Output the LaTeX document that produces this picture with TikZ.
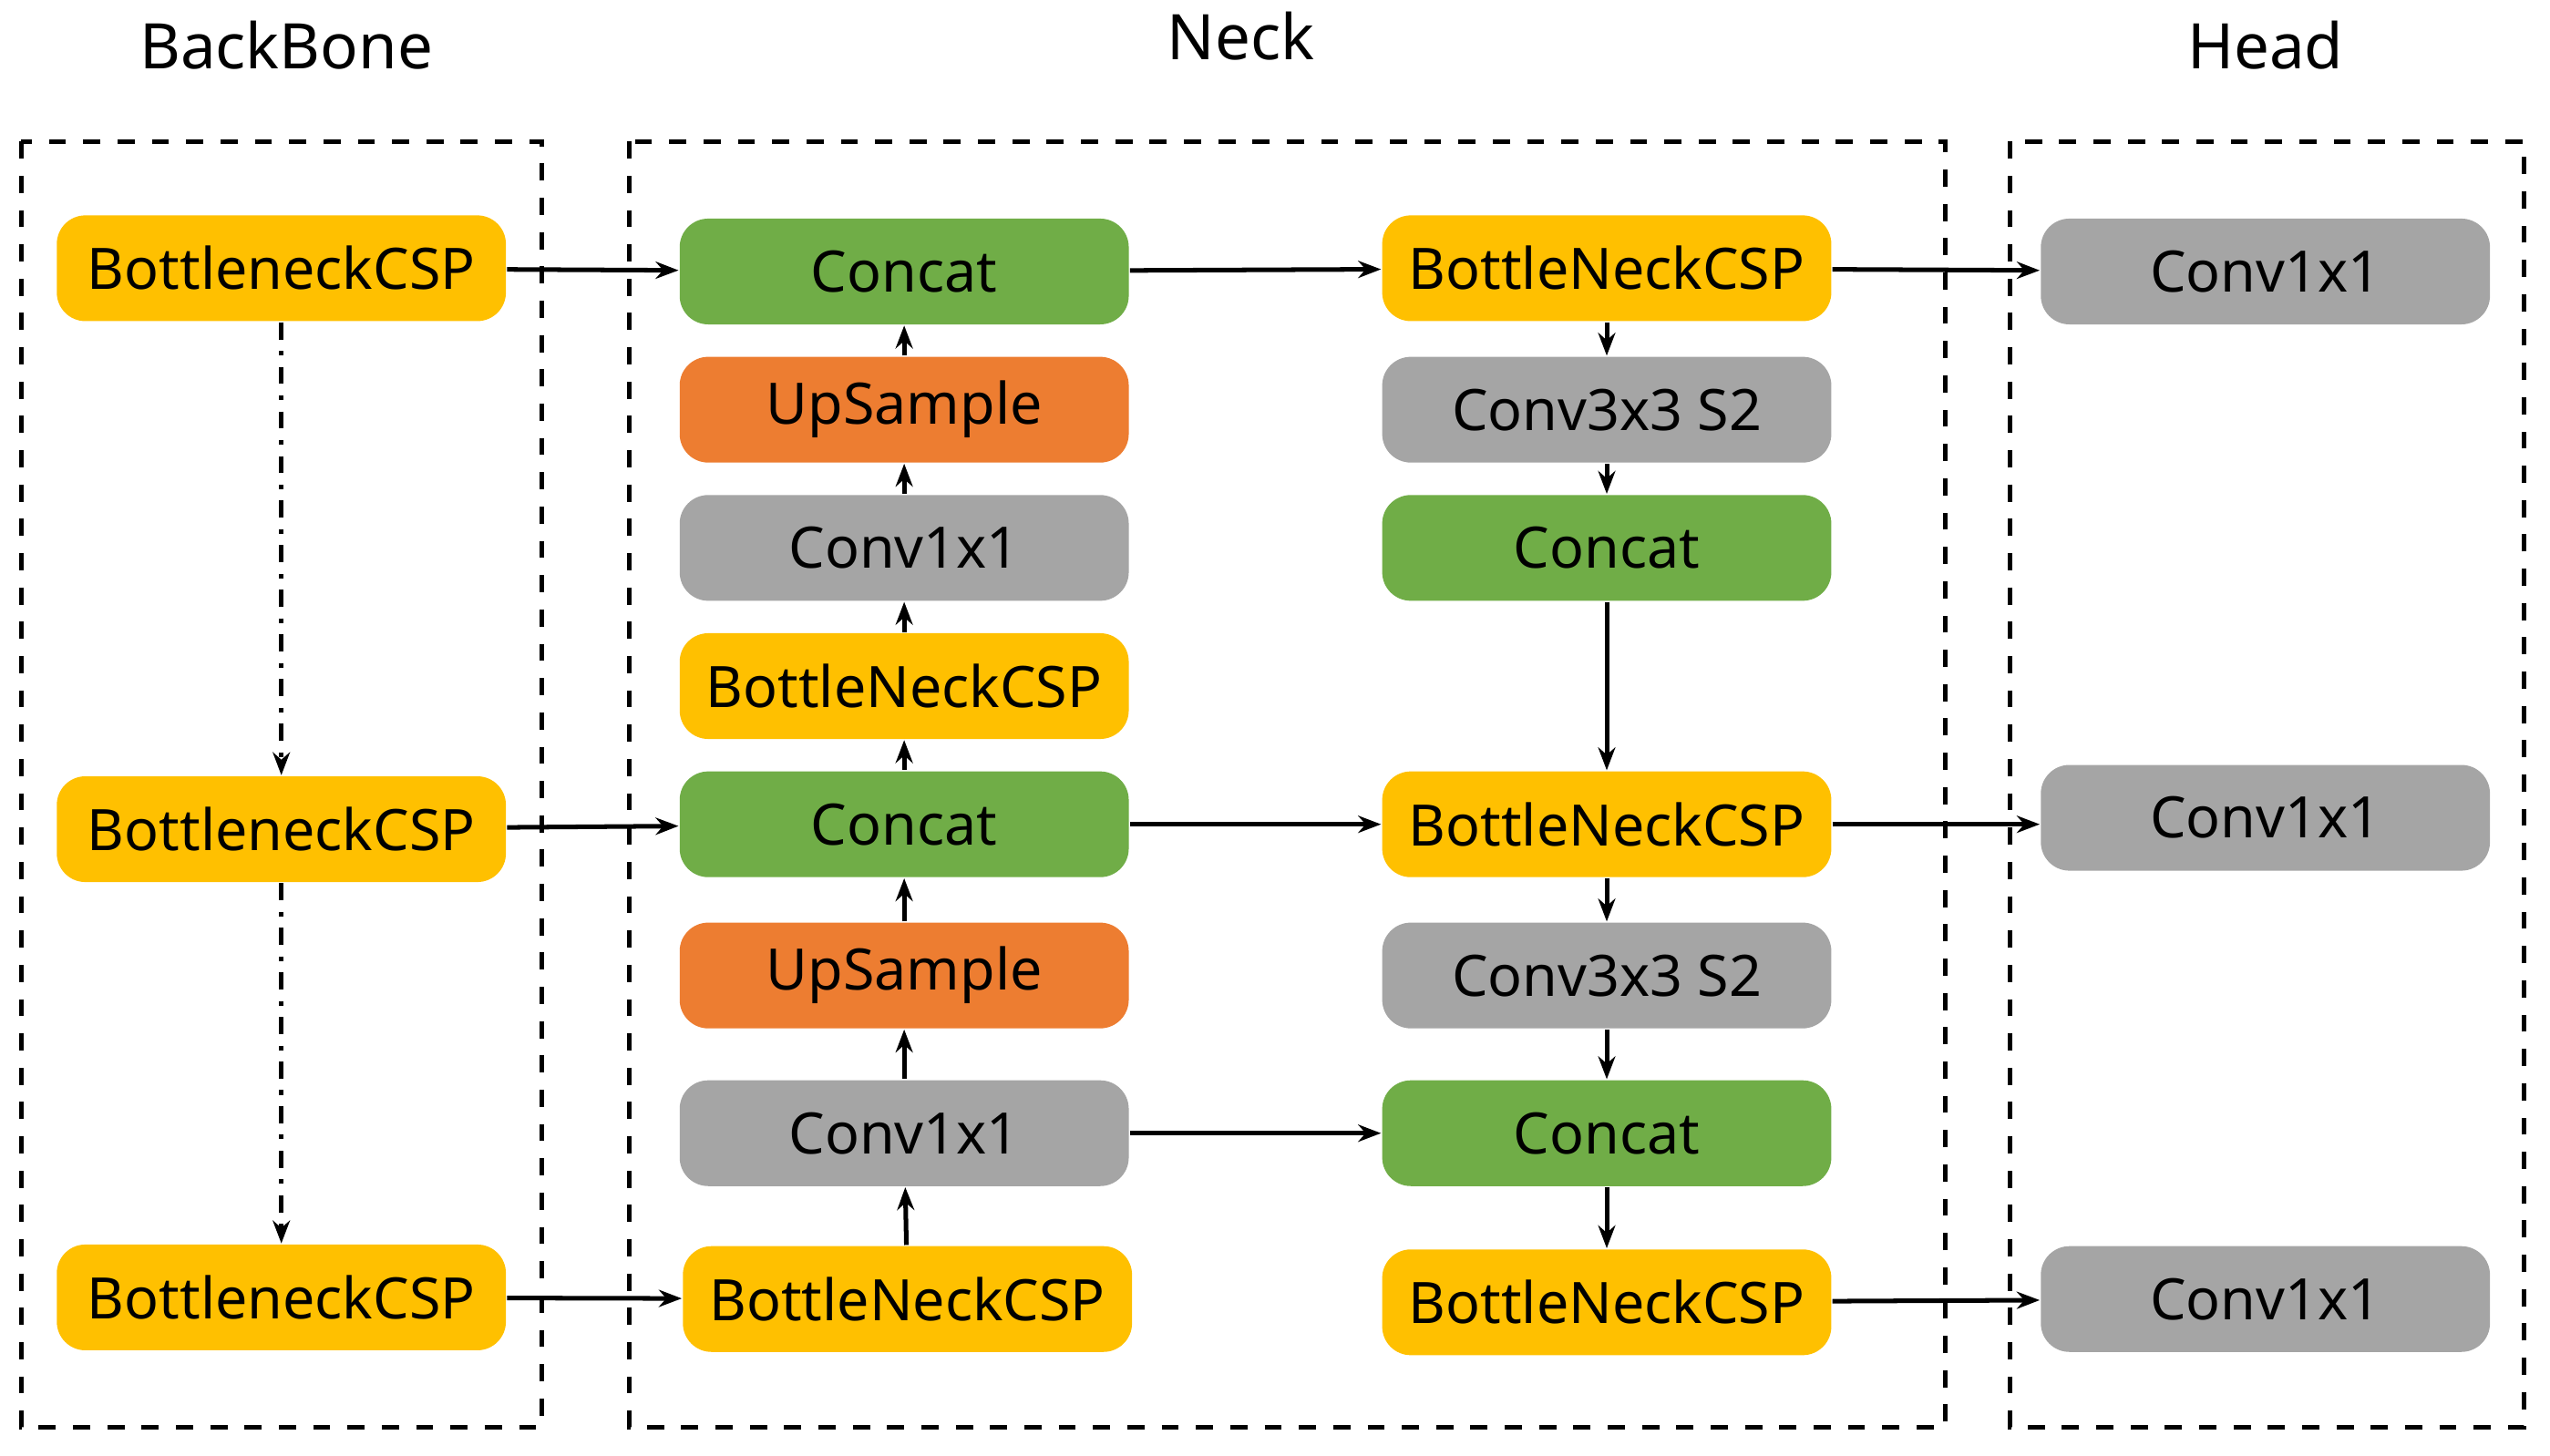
\documentclass[tikz,border=0pt]{standalone}
\usepackage{fontspec}
\setmainfont{Noto Sans}
\usetikzlibrary{arrows.meta}
\definecolor{cspyellow}{HTML}{FFC000}
\definecolor{catgreen}{HTML}{70AD47}
\definecolor{uporange}{HTML}{ED7D31}
\definecolor{convgray}{HTML}{A5A5A5}
\tikzset{
  blk/.style={rounded corners=5pt,minimum width=2.76cm,minimum height=0.65cm,
    inner sep=0pt,font=\fontsize{10}{12}\selectfont\bfseries},
  csp/.style={blk,fill=cspyellow},
  cat/.style={blk,fill=catgreen},
  ups/.style={blk,fill=uporange},
  cnv/.style={blk,fill=convgray},
  frame/.style={dashed,thick},
  title/.style={font=\fontsize{11}{13}\selectfont\bfseries},
  arr/.style={-{Stealth[length=4pt,width=3pt]},thick}
}
\begin{document}
\begin{tikzpicture}[x=0.01cm,y=-0.01cm]
  \useasboundingbox (0,0) rectangle (1568,895);
  % frames and titles
  \draw[frame] (13,87) rectangle (333,878);
  \draw[frame] (387,87) rectangle (1196,878);
  \draw[frame] (1236,87) rectangle (1552,878);
  \node[title] (tbb) at (176,28) {BackBone};
  \node[title] (tnk) at (763,22) {Neck};
  \node[title] (thd) at (1393,28) {Head};
  % backbone
  \node[csp] (b1) at (173,165) {BottleneckCSP};
  \node[csp] (b2) at (173,510) {BottleneckCSP};
  \node[csp] (b3) at (173,798) {BottleneckCSP};
  % neck, upward path
  \node[cat] (l1) at (556,167) {Concat};
  \node[ups] (l2) at (556,252) {UpSample};
  \node[cnv] (l3) at (556,337) {Conv1x1};
  \node[csp] (l4) at (556,422) {BottleNeckCSP};
  \node[cat] (l5) at (556,507) {Concat};
  \node[ups] (l6) at (556,600) {UpSample};
  \node[cnv] (l7) at (556,697) {Conv1x1};
  \node[csp] (l8) at (558,799) {BottleNeckCSP};
  % neck, downward path
  \node[csp] (r1) at (988,165) {BottleNeckCSP};
  \node[cnv] (r2) at (988,252) {Conv3x3 S2};
  \node[cat] (r3) at (988,337) {Concat};
  \node[csp] (r4) at (988,507) {BottleNeckCSP};
  \node[cnv] (r5) at (988,600) {Conv3x3 S2};
  \node[cat] (r6) at (988,697) {Concat};
  \node[csp] (r7) at (988,801) {BottleNeckCSP};
  % head
  \node[cnv] (h1) at (1393,167) {Conv1x1};
  \node[cnv] (h2) at (1393,503) {Conv1x1};
  \node[cnv] (h3) at (1393,799) {Conv1x1};
  % connectors
  \draw[arr,dash dot] (b1) -- (b2);
  \draw[arr,dash dot] (b2) -- (b3);
  \draw[arr] (b1) -- (l1);
  \draw[arr] (b2) -- (l5);
  \draw[arr] (b3) -- (l8);
  \foreach \a/\b in {l8/l7,l7/l6,l6/l5,l5/l4,l4/l3,l3/l2,l2/l1}
    \draw[arr] (\a) -- (\b);
  \foreach \a/\b in {r1/r2,r2/r3,r3/r4,r4/r5,r5/r6,r6/r7}
    \draw[arr] (\a) -- (\b);
  \draw[arr] (l1) -- (r1);
  \draw[arr] (l5) -- (r4);
  \draw[arr] (l7) -- (r6);
  \draw[arr] (r1) -- (h1);
  \draw[arr] (r4.east) -- (h2.west|-r4.east);
  \draw[arr] (r7) -- (h3);
\end{tikzpicture}
\end{document}
